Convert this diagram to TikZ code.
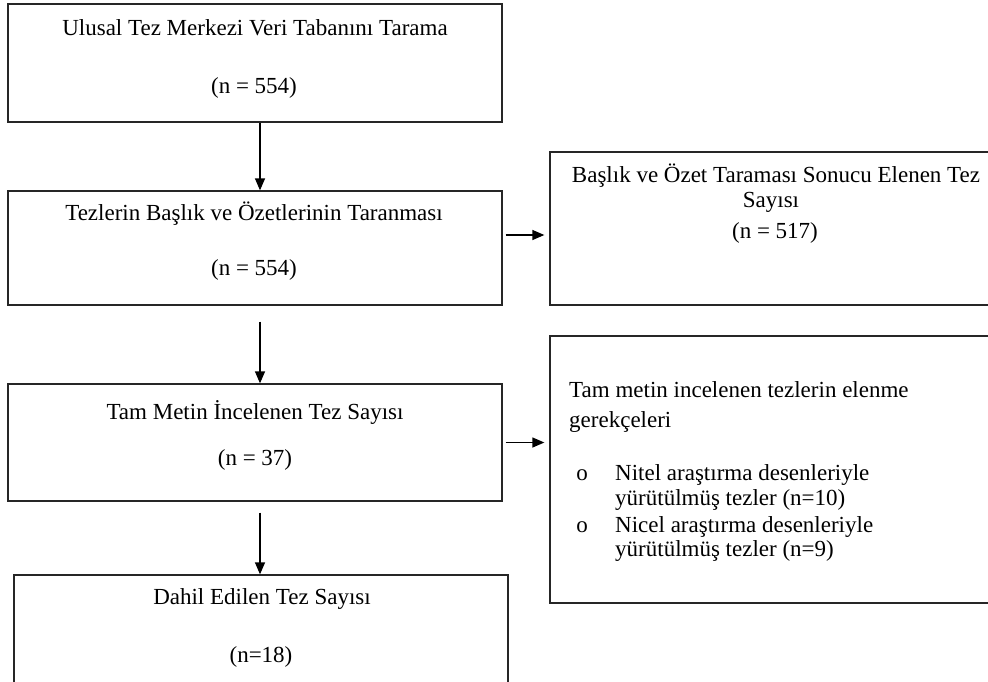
\documentclass[tikz,border=0pt]{standalone}
\usepackage{fontspec}
\setmainfont{Liberation Serif}
\usetikzlibrary{arrows.meta,positioning}

\begin{document}
\begin{tikzpicture}[x=1pt, y=-1pt,
      box/.style={draw=black!85, line width=1.3pt, inner sep=0pt},
      txt/.style={font=\fontsize{23}{27}\selectfont, inner sep=0pt, text height=15pt, text depth=0pt},
      flow/.style={draw=black, line width=1.3pt, -{Triangle[length=12pt,width=10pt]}}
    ]
    \useasboundingbox (0,0) rectangle (988,681);
    \foreach \bname/\bx/\by/\bw/\bh in {scan/255/63/494/118,title/255/248/494/114,excl/775/228.5/450/153,full/255/442.5/494/117,reason/775/469.5/450/267,incl/261/632.5/494/115}{%
      \node[box, minimum width=\bw, minimum height=\bh] (\bname) at (\bx,\by) {};
    }
    \foreach \tname/\tx/\ty/\ttext in {scan-a/255/28/Ulusal Tez Merkezi Veri Tabanını Tarama,scan-b/254/86/(n = 554),title-a/254/213/Tezlerin Başlık ve Özetlerinin Taranması,title-b/254/268/(n = 554),excl-a/776/175/Başlık ve Özet Taraması Sonucu Elenen Tez,excl-b/771/200/Sayısı,excl-c/775/231/(n = 517),full-a/255/412/Tam Metin İncelenen Tez Sayısı,full-b/255/458/(n = 37),incl-a/262/597/Dahil Edilen Tez Sayısı,incl-b/261/655/(n=18),dot-a/582/473/o,dot-b/582/525/o}{%
      \node[txt] (\tname) at (\tx,\ty) {\ttext};
    }
    \foreach \tname/\tx/\ty/\ttext in {reason-a/569/390/Tam metin incelenen tezlerin elenme,reason-b/569/420/gerekçeleri,reason-c/615/473/Nitel araştırma desenleriyle,reason-d/615/498/yürütülmüş tezler (n=10),reason-e/615/525/Nicel araştırma desenleriyle,reason-f/615/549/yürütülmüş tezler (n=9)}{%
      \node[txt, anchor=west] (\tname) at (\tx,\ty) {\ttext};
    }
    \draw[flow] ([xshift=5pt]scan.south) -- ([xshift=5pt]title.north);
    \draw[flow] ([xshift=5pt,yshift=-16pt]title.south) -- ([xshift=5pt]full.north);
    \draw[flow] ([xshift=5pt,yshift=-11pt]full.south) -- ([xshift=-1pt]incl.north);
    \draw[flow, shorten <=3pt, shorten >=5pt] ([yshift=13pt]title.east) -- ([yshift=13pt]title.east -| excl.west);
    \draw[flow, shorten <=3pt, shorten >=5pt] (full.east) -- (full.east -| reason.west);
  \end{tikzpicture}
\end{document}
